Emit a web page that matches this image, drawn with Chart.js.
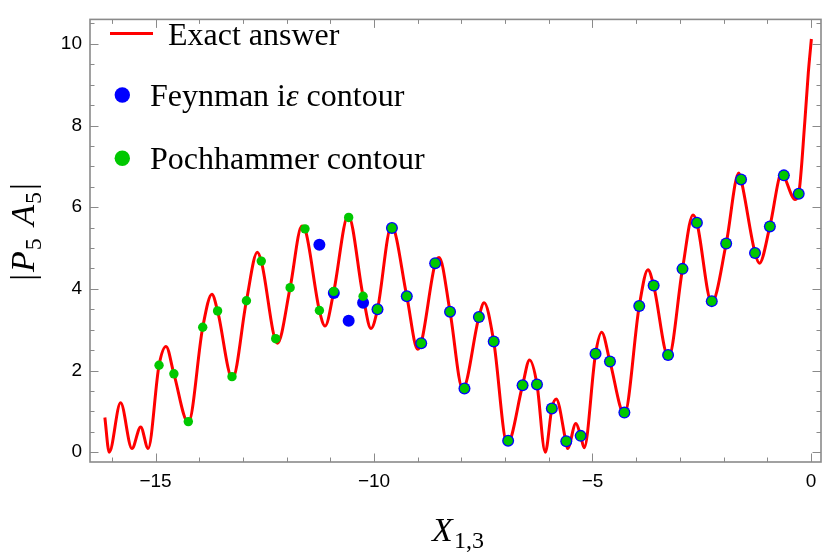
<!DOCTYPE html>
<html>
<head>
<meta charset="utf-8">
<script src="https://cdn.jsdelivr.net/npm/chart.js@4.4.1/dist/chart.umd.min.js"></script>
<style>
  html, body { margin: 0; padding: 0; background: #ffffff; }
  #wrap { width: 827px; height: 552px; }
</style>
</head>
<body>
<div id="wrap"><canvas id="c" width="827" height="552"></canvas></div>
<script>
// ---- Data ----
const curveX = [-16.16, -16.06, -15.80, -15.54, -15.34, -15.17, -14.92, -14.76, -14.58, -14.25,
  -13.92, -13.71, -13.58, -13.24, -12.92, -12.67, -12.58, -12.21, -11.92, -11.65,
  -11.58, -11.25, -11.12, -10.92, -10.59, -10.25, -10.07, -9.92, -9.60, -9.25,
  -9.00, -8.92, -8.60, -8.51, -8.26, -7.97, -7.60, -7.48, -7.26, -6.95,
  -6.60, -6.44, -6.27, -6.08, -5.93, -5.83, -5.61, -5.57, -5.38, -5.27,
  -5.19, -4.93, -4.79, -4.60, -4.27, -3.93, -3.73, -3.60, -3.26, -2.94,
  -2.70, -2.61, -2.27, -1.94, -1.65, -1.60, -1.28, -1.18, -0.94, -0.66,
  -0.62, -0.36, -0.28, -0.14, -0.06, 0.01];
const curveY = [0.85, 0.00, 1.21, 0.09, 0.62, 0.09, 2.13, 2.59, 1.92, 0.72,
  3.06, 3.87, 3.46, 1.80, 3.71, 4.90, 4.68, 2.67, 4.03, 5.54,
  5.47, 3.47, 3.09, 3.94, 5.80, 3.82, 3.03, 3.50, 5.54, 3.82,
  2.52, 2.67, 4.63, 4.77, 3.44, 1.55, 3.31, 3.66, 2.71, 0.20,
  1.64, 2.26, 1.66, 0.00, 1.07, 1.30, 0.27, 0.09, 0.70, 0.40,
  0.11, 2.41, 2.94, 2.22, 0.93, 3.58, 4.47, 4.08, 2.32, 4.49,
  5.81, 5.62, 3.66, 5.11, 6.84, 6.68, 4.88, 4.63, 5.53, 6.86,
  6.78, 6.19, 6.33, 8.10, 9.30, 10.12];

const feynmanX = [-11.25, -10.92, -10.58, -10.25, -9.92, -9.59, -9.25, -8.92, -8.60, -8.26,
  -7.93, -7.60, -7.26, -6.93, -6.60, -6.27, -5.93, -5.60, -5.27, -4.93,
  -4.60, -4.27, -3.93, -3.60, -3.27, -2.94, -2.61, -2.27, -1.94, -1.60,
  -1.28, -0.94, -0.62, -0.28];
const feynmanY = [5.08, 3.90, 3.22, 3.66, 3.50, 5.49, 3.82, 2.67, 4.63, 3.44,
  1.56, 3.31, 2.71, 0.28, 1.64, 1.66, 1.07, 0.27, 0.40, 2.41,
  2.22, 0.97, 3.58, 4.08, 2.38, 4.49, 5.62, 3.70, 5.11, 6.68,
  4.88, 5.53, 6.78, 6.33];

const pochX = [-14.92, -14.58, -14.25, -13.92, -13.58, -13.25, -12.92, -12.58, -12.25, -11.92,
  -11.58, -11.25, -10.92, -10.58, -10.25, -9.92, -9.59, -9.25, -8.92, -8.60,
  -8.26, -7.93, -7.60, -7.26, -6.93, -6.60, -6.27, -5.93, -5.60, -5.27,
  -4.93, -4.60, -4.27, -3.93, -3.60, -3.27, -2.94, -2.61, -2.27, -1.94,
  -1.60, -1.28, -0.94, -0.62, -0.28];
const pochY = [2.13, 1.92, 0.75, 3.06, 3.46, 1.85, 3.71, 4.68, 2.78, 4.03,
  5.47, 3.47, 3.94, 5.75, 3.82, 3.50, 5.49, 3.82, 2.67, 4.63,
  3.44, 1.56, 3.31, 2.71, 0.28, 1.64, 1.66, 1.07, 0.27, 0.40,
  2.41, 2.22, 0.97, 3.58, 4.08, 2.38, 4.49, 5.62, 3.70, 5.11,
  6.68, 4.88, 5.53, 6.78, 6.33];

const xTicks = [-15, -10, -5, 0];
const yTicks = [0, 2, 4, 6, 8, 10];
const xMinorTicks = [-16, -14, -13, -12, -11, -9, -8, -7, -6, -4, -3, -2, -1];
const yMinorTicks = [0.5, 1, 1.5, 2.5, 3, 3.5, 4.5, 5, 5.5, 6.5, 7, 7.5, 8.5, 9, 9.5, 10.5];

const seriesNames = ['Exact answer', 'Feynman i\u03B5 contour', 'Pochhammer contour'];

// ---- Build library data ----
const zip = (xs, ys) => xs.map((x, i) => ({ x: x, y: ys[i] }));

const RED = '#ff0000', BLUE = '#0000ff', GREEN = '#00c800';
const SERIF = '"Liberation Serif", "Times New Roman", serif';
const SANS = '"Liberation Sans", Arial, sans-serif';

const fmt = v => String(v).replace('-', '\u2212');

const framePlugin = {
  id: 'frameTicks',
  afterDatasetsDraw(chart) {
    const { ctx, chartArea: a, scales } = chart;
    const sx = scales.x, sy = scales.y;
    ctx.save();
    ctx.strokeStyle = '#8a8a8a';
    ctx.lineWidth = 1;
    const major = 8.5, minor = 4.5;
    const drawX = (v, len) => {
      const p = Math.round(sx.getPixelForValue(v)) + 0.5;
      ctx.beginPath();
      ctx.moveTo(p, a.bottom); ctx.lineTo(p, a.bottom - len);
      ctx.moveTo(p, a.top); ctx.lineTo(p, a.top + len);
      ctx.stroke();
    };
    const drawY = (v, len) => {
      const p = Math.round(sy.getPixelForValue(v)) + 0.5;
      ctx.beginPath();
      ctx.moveTo(a.left, p); ctx.lineTo(a.left + len, p);
      ctx.moveTo(a.right, p); ctx.lineTo(a.right - len, p);
      ctx.stroke();
    };
    xTicks.forEach(v => drawX(v, major));
    xMinorTicks.forEach(v => drawX(v, minor));
    yTicks.forEach(v => drawY(v, major));
    yMinorTicks.forEach(v => drawY(v, minor));
    ctx.lineWidth = 1.6;
    ctx.strokeRect(a.left, a.top, a.right - a.left, a.bottom - a.top);
    ctx.restore();
  },
  afterDraw(chart) {
    const { ctx, chartArea: a } = chart;
    const ds = chart.data.datasets;
    ctx.save();
    ctx.fillStyle = '#000';
    ctx.textBaseline = 'alphabetic';
    ctx.textAlign = 'left';

    // Legend inside the plot
    ctx.strokeStyle = ds[0].borderColor;
    ctx.lineWidth = 3;
    ctx.beginPath(); ctx.moveTo(110, 33.5); ctx.lineTo(153, 33.5); ctx.stroke();
    ctx.font = '32px ' + SERIF;
    ctx.fillText(seriesNames[0], 168, 45);

    ctx.fillStyle = ds[1].backgroundColor;
    ctx.beginPath(); ctx.arc(122.3, 95, 7.7, 0, Math.PI * 2); ctx.fill();
    ctx.fillStyle = '#000';
    let tx = 150;
    const p1 = 'Feynman i', p2 = '\u03B5', p3 = ' contour';
    ctx.font = '32px ' + SERIF; ctx.fillText(p1, tx, 106); tx += ctx.measureText(p1).width;
    ctx.font = 'italic 32px ' + SERIF; ctx.fillText(p2, tx, 106); tx += ctx.measureText(p2).width;
    ctx.font = '32px ' + SERIF; ctx.fillText(p3, tx, 106);

    ctx.fillStyle = ds[2].backgroundColor;
    ctx.beginPath(); ctx.arc(122.3, 158.3, 7.7, 0, Math.PI * 2); ctx.fill();
    ctx.fillStyle = '#000';
    ctx.font = '32px ' + SERIF;
    ctx.fillText(seriesNames[2], 150, 169);

    // X axis title: X_{1,3}
    const bigI = 'italic 34px ' + SERIF, big = '34px ' + SERIF, sub = '24px ' + SERIF;
    ctx.font = bigI; const wX = ctx.measureText('X').width;
    ctx.font = sub; const wS = ctx.measureText('1,3').width;
    const cx = (a.left + a.right) / 2 + 2;
    let xs = cx - (wX + wS) / 2;
    ctx.font = bigI; ctx.fillText('X', xs, 540.7);
    ctx.font = sub; ctx.fillText('1,3', xs + wX + 1, 547.7);

    // Y axis title: |P_5 A_5|
    const parts = [
      ['|', big, 0, 2], ['P', bigI, 0, 1], ['5', sub, 7, 0], [' ', big, 0, 4],
      ['A', bigI, 0, 1], ['5', sub, 7, 2], ['|', big, 0, 0]
    ];
    let total = 0;
    parts.forEach(p => { ctx.font = p[1]; p.push(ctx.measureText(p[0]).width + p[3]); total += p[4]; });
    ctx.translate(34, 232);
    ctx.rotate(-Math.PI / 2);
    let px = -total / 2;
    parts.forEach(p => { ctx.font = p[1]; ctx.fillText(p[0], px, p[2]); px += p[4]; });
    ctx.restore();
  }
};

new Chart(document.getElementById('c'), {
  type: 'scatter',
  data: {
    datasets: [
      {
        label: seriesNames[0],
        type: 'line',
        data: zip(curveX, curveY),
        borderColor: RED,
        backgroundColor: RED,
        borderWidth: 3,
        pointRadius: 0,
        pointHoverRadius: 0,
        showLine: true,
        fill: false,
        cubicInterpolationMode: 'monotone',
        order: 3
      },
      {
        label: seriesNames[1],
        data: zip(feynmanX, feynmanY),
        backgroundColor: BLUE,
        borderColor: BLUE,
        borderWidth: 0,
        pointRadius: 6,
        pointHoverRadius: 6,
        order: 2
      },
      {
        label: seriesNames[2],
        data: zip(pochX, pochY),
        backgroundColor: GREEN,
        borderColor: GREEN,
        borderWidth: 0,
        pointRadius: 4.7,
        pointHoverRadius: 4.7,
        order: 1
      }
    ]
  },
  options: {
    responsive: false,
    animation: false,
    devicePixelRatio: 1,
    layout: { padding: { top: 4, right: 1, left: 0, bottom: 0 } },
    plugins: { legend: { display: false }, tooltip: { enabled: false }, title: { display: false } },
    scales: {
      x: {
        type: 'linear',
        min: -16.5,
        max: 0.23,
        grid: { display: false, drawTicks: false, tickLength: 0 },
        border: { display: false },
        ticks: {
          color: '#000',
          font: { family: SANS, size: 19 },
          padding: 8,
          maxRotation: 0,
          autoSkip: false,
          callback: v => fmt(v)
        },
        afterBuildTicks: s => { s.ticks = xTicks.map(v => ({ value: v })); },
        afterFit: s => { s.height = 90; }
      },
      y: {
        type: 'linear',
        min: -0.24,
        max: 10.6,
        grid: { display: false, drawTicks: false, tickLength: 0 },
        border: { display: false },
        ticks: {
          color: '#000',
          font: { family: SANS, size: 19 },
          padding: 8,
          autoSkip: false,
          callback: v => fmt(v)
        },
        afterBuildTicks: s => { s.ticks = yTicks.map(v => ({ value: v })); },
        afterFit: s => { s.width = 90; }
      }
    }
  },
  plugins: [framePlugin]
});
</script>
</body>
</html>
